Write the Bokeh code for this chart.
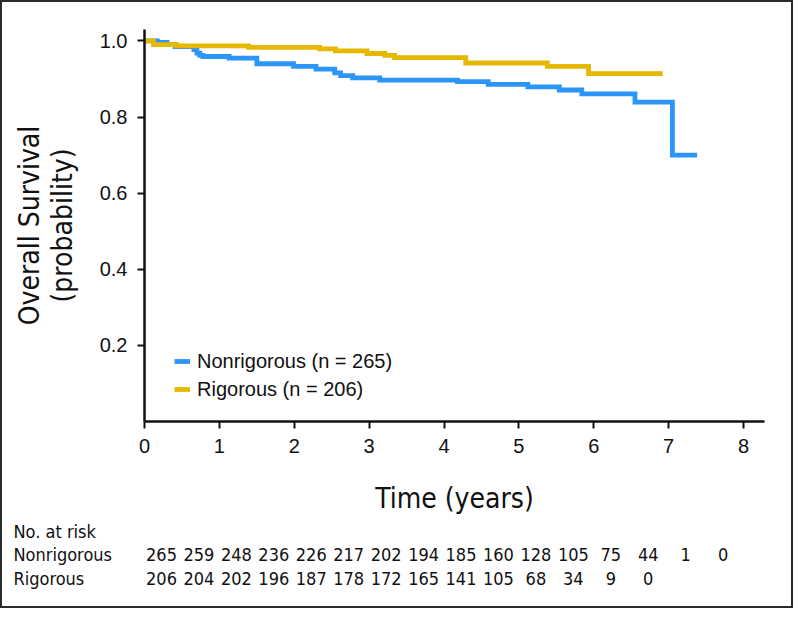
from bokeh.plotting import figure
from bokeh.models import Range1d, FixedTicker, PrintfTickFormatter, Legend, LegendItem
from bokeh.layouts import column
from bokeh.embed import file_html
from bokeh.resources import INLINE
from bokeh.core.properties import value

# ---------------- data ----------------
series_names = ["Nonrigorous", "Rigorous"]
series_n = [265, 206]

nonrig_times = [0.00, 0.17, 0.30, 0.41, 0.66, 0.70, 0.74, 0.78, 1.13, 1.50, 1.99, 2.29,
                2.54, 2.62, 2.78, 3.14, 4.18, 4.59, 5.12, 5.54, 5.84, 6.55, 7.05]
nonrig_surv = [1.000, 0.996, 0.990, 0.985, 0.977, 0.968, 0.962, 0.959, 0.955, 0.940, 0.933, 0.926,
               0.916, 0.909, 0.903, 0.897, 0.893, 0.886, 0.879, 0.871, 0.861, 0.839, 0.700]
nonrig_end = 7.38

rig_times = [0.00, 0.12, 0.43, 1.39, 2.34, 2.55, 2.97, 3.21, 3.34, 4.29, 5.38, 5.93]
rig_surv = [1.000, 0.990, 0.987, 0.983, 0.979, 0.974, 0.967, 0.962, 0.956, 0.942, 0.933, 0.914]
rig_end = 6.92

risk_times = [0.0, 0.5, 1.0, 1.5, 2.0, 2.5, 3.0, 3.5, 4.0, 4.5, 5.0, 5.5, 6.0, 6.5, 7.0, 7.5]
risk_nonrig = [265, 259, 248, 236, 226, 217, 202, 194, 185, 160, 128, 105, 75, 44, 1, 0]
risk_rig = [206, 204, 202, 196, 187, 178, 172, 165, 141, 105, 68, 34, 9, 0]

x_ticks = [0, 1, 2, 3, 4, 5, 6, 7, 8]
y_ticks = [0.2, 0.4, 0.6, 0.8, 1.0]

# ---------------- style ----------------
BLUE = "#2b96f7"
GOLD = "#e6b800"
SANS = "Liberation Sans"
NARROW = "DejaVu Sans Condensed"
W = 789
P_H = 518
T_H = 86
BL, BR, BT, BB = 142, 27, 27, 99
X_END = 8.28
Y_END = 1.03

p = figure(width=W, height=P_H, x_range=Range1d(0, X_END), y_range=Range1d(0, Y_END),
           output_backend="svg", toolbar_location=None,
           min_border_left=BL, min_border_right=BR, min_border_top=BT, min_border_bottom=BB)
p.frame_align = False
p.outline_line_color = None
p.grid.visible = False
p.background_fill_color = "white"
p.border_fill_color = "white"

for ax in (p.xaxis[0], p.yaxis[0]):
    ax.axis_line_width = 2.5
    ax.axis_line_color = "#111111"
    ax.major_tick_line_width = 2
    ax.major_tick_line_color = "#111111"
    ax.major_tick_out = 7
    ax.major_tick_in = 0
    ax.minor_tick_line_color = None
    ax.major_label_text_font = SANS
    ax.major_label_text_font_size = "20px"
    ax.major_label_text_color = "#111111"
    ax.axis_label_text_font = NARROW
    ax.axis_label_text_font_size = "28px"
    ax.axis_label_text_font_style = "normal"
    ax.axis_label_text_color = "#111111"
    ax.axis_label_text_line_height = 1.0

p.xaxis.ticker = FixedTicker(ticks=x_ticks)
p.yaxis.ticker = FixedTicker(ticks=y_ticks)
p.yaxis.formatter = PrintfTickFormatter(format="%.1f")
p.xaxis.major_label_standoff = 10
p.yaxis.major_label_standoff = 10
p.xaxis.axis_label = "Time (years)"
p.yaxis.axis_label = "Overall Survival\n(probability)"
p.xaxis.axis_label_standoff = 26
p.yaxis.axis_label_standoff = 18

r1 = p.step(nonrig_times + [nonrig_end], nonrig_surv + [nonrig_surv[-1]], mode="after",
            line_color=BLUE, line_width=4.8, line_join="miter")
r2 = p.step(rig_times + [rig_end], rig_surv + [rig_surv[-1]], mode="after",
            line_color=GOLD, line_width=4.8, line_join="miter")

legend = Legend(items=[LegendItem(label=f"{series_names[0]} (n = {series_n[0]})", renderers=[r1]),
                       LegendItem(label=f"{series_names[1]} (n = {series_n[1]})", renderers=[r2])],
                location=(30, 18))
legend.border_line_color = None
legend.background_fill_alpha = 0
legend.padding = 0
legend.margin = 0
legend.spacing = 0
legend.glyph_width = 16
legend.glyph_height = 28
legend.label_height = 28
legend.label_standoff = 7
legend.label_text_font = SANS
legend.label_text_font_size = "20px"
legend.label_text_color = "#111111"
p.add_layout(legend, "center")

# ---------------- risk table ----------------
px_per_year = (W - BL - BR) / X_END
tx0 = -BL / px_per_year
tx1 = X_END + BR / px_per_year
ROW_PX = 23.5
ROW0_PX = 10.5
ty_top = -ROW0_PX / ROW_PX
ty_bot = ty_top + T_H / ROW_PX

t = figure(width=W, height=T_H, x_range=Range1d(tx0, tx1), y_range=Range1d(ty_bot, ty_top),
           output_backend="svg", toolbar_location=None, x_axis_type=None, y_axis_type=None,
           min_border_left=0, min_border_right=0, min_border_top=0, min_border_bottom=0)
t.frame_align = False
t.outline_line_color = None
t.grid.visible = False

TFONT = "18px"
row_labels = ["No. at risk"] + series_names
t.text(x=[tx0] * 3, y=[0, 1, 2], text=row_labels, text_font=value(NARROW),
       text_font_size=TFONT, text_align="left", text_baseline="middle",
       text_color="#111111", x_offset=11)

t.text(x=risk_times[:len(risk_nonrig)], y=[1] * len(risk_nonrig), text=[str(v) for v in risk_nonrig],
       text_font=value(NARROW), text_font_size=TFONT, text_align="center",
       text_baseline="middle", text_color="#111111", x_offset=17)
t.text(x=risk_times[:len(risk_rig)], y=[2] * len(risk_rig), text=[str(v) for v in risk_rig],
       text_font=value(NARROW), text_font_size=TFONT, text_align="center",
       text_baseline="middle", text_color="#111111", x_offset=17)

layout = column(p, t, spacing=0, styles={"border": "2px solid #2b2b2b", "background": "white"})

open("out.html", "w").write(file_html(layout, INLINE))
